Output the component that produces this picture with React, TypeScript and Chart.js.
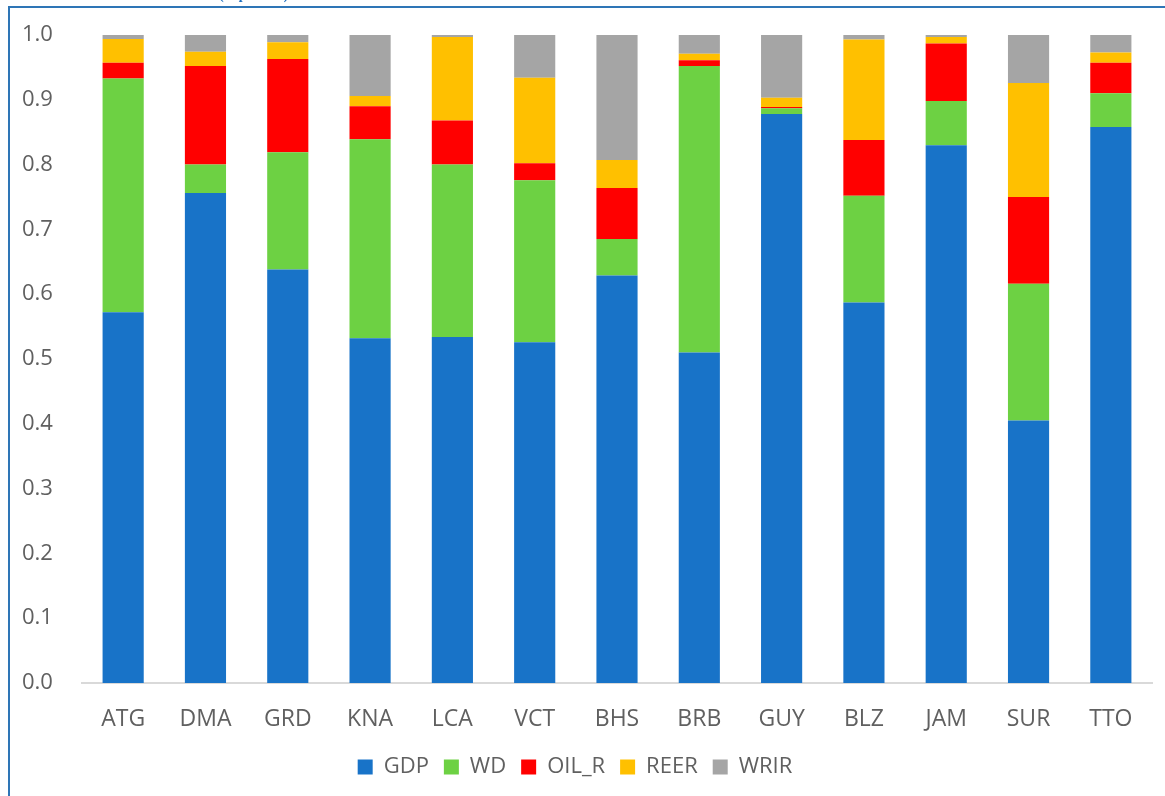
import React, { useEffect, useRef } from "react";
import { Chart, registerables } from "chart.js";

Chart.register(...registerables);

// Country codes along the x axis
const countries = ["ATG", "DMA", "GRD", "KNA", "LCA", "VCT", "BHS", "BRB", "GUY", "BLZ", "JAM", "SUR", "TTO"];

// Share of each factor per country (stacked to 1.0)
const gdp = [0.572, 0.756, 0.638, 0.532, 0.534, 0.526, 0.629, 0.510, 0.878, 0.587, 0.830, 0.405, 0.858];
const wd = [0.361, 0.044, 0.181, 0.307, 0.266, 0.250, 0.056, 0.442, 0.009, 0.165, 0.068, 0.211, 0.052];
const oilR = [0.024, 0.152, 0.144, 0.051, 0.068, 0.026, 0.079, 0.009, 0.002, 0.086, 0.089, 0.134, 0.047];
const reer = [0.037, 0.022, 0.026, 0.016, 0.129, 0.132, 0.043, 0.010, 0.014, 0.155, 0.010, 0.176, 0.016];
const wrir = [0.006, 0.026, 0.011, 0.094, 0.003, 0.066, 0.193, 0.029, 0.097, 0.007, 0.003, 0.074, 0.027];

const seriesNames = ["GDP", "WD", "OIL_R", "REER", "WRIR"];
const seriesColors = ["#1873C8", "#6DD143", "#FF0000", "#FFC000", "#A5A5A5"];

const yTickStep = 0.1;
const titleText = "(in percent)";

const FONT = '"Open Sans", "Noto Sans", sans-serif';
const TEXT_COLOR = "#606060";

// Centre the legend under the whole frame rather than the padded area
const legendShift = {
  id: "legendShift",
  afterLayout(chart: any) {
    const lg = chart.legend;
    if (lg) {
      lg.left -= 12;
      lg.right -= 12;
    }
  },
};

export default function App() {
  const canvasRef = useRef<HTMLCanvasElement | null>(null);

  useEffect(() => {
    const canvas = canvasRef.current;
    if (!canvas) return;
    const values = [gdp, wd, oilR, reer, wrir];
    const chart = new Chart(canvas, {
      type: "bar",
      data: {
        labels: countries,
        datasets: seriesNames.map((name, i) => ({
          label: name,
          data: values[i],
          backgroundColor: seriesColors[i],
          borderWidth: 0,
          barPercentage: 0.5,
          categoryPercentage: 1.0,
        })),
      },
      plugins: [legendShift],
      options: {
        responsive: false,
        animation: false,
        layout: { padding: { top: 35, right: 13, left: 22, bottom: 8 } },
        plugins: {
          legend: {
            position: "bottom",
            labels: {
              boxWidth: 15,
              boxHeight: 15,
              padding: 15,
              color: TEXT_COLOR,
              font: { family: FONT, size: 22 },
            },
          },
          tooltip: { enabled: false },
          title: { display: false },
        },
        scales: {
          x: {
            stacked: true,
            grid: { display: false, drawTicks: false },
            border: { display: true, color: "#D9D9D9", width: 2 },
            ticks: {
              color: TEXT_COLOR,
              font: { family: FONT, size: 23 },
              padding: 23,
              maxRotation: 0,
            },
            afterFit: (scale: any) => {
              scale.height = 58;
            },
          },
          y: {
            stacked: true,
            min: 0,
            max: 1,
            grid: { display: false, drawTicks: false },
            border: { display: false },
            ticks: {
              stepSize: yTickStep,
              color: TEXT_COLOR,
              font: { family: FONT, size: 22 },
              padding: 0,
              crossAlign: "far",
              callback: (v: any) => Number(v).toFixed(1),
            },
            afterFit: (scale: any) => {
              scale.width = 60;
            },
          },
        },
      },
    });
    return () => chart.destroy();
  }, []);

  return (
    <>
      <div
        style={{
          position: "fixed",
          left: 8,
          top: 6,
          right: -20,
          bottom: -20,
          borderTop: "2px solid #2E75B6",
          borderLeft: "2px solid #2E75B6",
        }}
      />
      <span
        style={{
          position: "fixed",
          left: 219,
          top: -12,
          font: 'bold 14px "Liberation Serif", "Times New Roman", serif',
          lineHeight: "14px",
          color: "#1F6FBF",
          whiteSpace: "nowrap",
        }}
      >
        {titleText}
      </span>
      <canvas
        ref={canvasRef}
        width={1165}
        height={796}
        style={{ position: "fixed", left: 0, top: 0, width: 1165, height: 796 }}
      />
    </>
  );
}
